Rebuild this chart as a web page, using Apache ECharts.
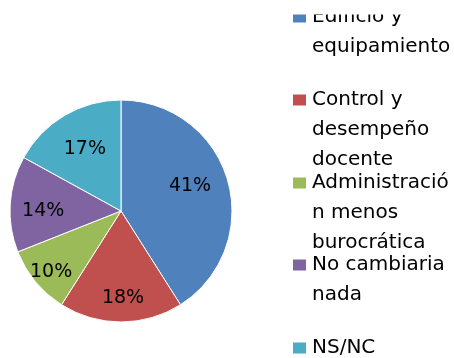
<!DOCTYPE html>
<html>
<head>
<meta charset="utf-8">
<script src="https://cdn.jsdelivr.net/npm/echarts@6/dist/echarts.min.js"></script>
<style>
  html, body { margin: 0; padding: 0; background: #fff; }
  #chart { width: 454px; height: 358px; }
</style>
</head>
<body>
<div id="chart"></div>
<script>
// Answers, in order clockwise from twelve o'clock
const categories = [
  'Edificio y equipamiento',
  'Control y desempeño docente',
  'Administración menos burocrática',
  'No cambiaria nada',
  'NS/NC'
];
// Share of responses, percent
const shares = [41, 18, 10, 14, 17];
// Legend text as it wraps in the narrow legend column
const legendLines = [
  ['Edificio y', 'equipamiento'],
  ['Control y', 'desempeño', 'docente'],
  ['Administració', 'n menos', 'burocrática'],
  ['No cambiaria', 'nada'],
  ['NS/NC']
];
const colors = ['#4F81BD', '#C0504D', '#9BBB59', '#8064A2', '#4BACC6'];

const FONT = 'DejaVu Sans';
const CENTER = [121, 211];
const R = 111;
const LINE_H = 30;

// distance of each value label from the pie centre, plus a small nudge
const labelDist = [71, 84, 89, 75, 72];
const labelNudge = [[-2, -4], [2, 0], [1, 2], [0, 5], [2, 3]];

const chart = echarts.init(document.getElementById('chart'), null, { renderer: 'canvas' });

const pieData = categories.map((name, i) => ({
  name: name,
  value: shares[i],
  itemStyle: { color: colors[i] }
}));

const series = [{
  type: 'pie',
  center: CENTER,
  radius: [0, R],
  startAngle: 90,
  clockwise: true,
  silent: true,
  animation: false,
  itemStyle: { borderColor: '#ffffff', borderWidth: 1 },
  label: { show: false },
  labelLine: { show: false },
  data: pieData
}];

// transparent rings carrying the value labels, one per slice
categories.forEach((name, k) => {
  const d = labelDist[k];
  series.push({
    type: 'pie',
    center: CENTER,
    radius: [2 * d - R, R],
    startAngle: 90,
    clockwise: true,
    silent: true,
    animation: false,
    itemStyle: { color: 'rgba(0,0,0,0)', borderWidth: 0 },
    labelLine: { show: false },
    labelLayout: { dx: labelNudge[k][0], dy: labelNudge[k][1] },
    label: {
      show: false,
      position: 'inside',
      formatter: '{c}%',
      color: '#000',
      fontFamily: FONT,
      fontSize: 19
    },
    data: categories.map((n, i) => ({
      name: n,
      value: shares[i],
      label: { show: i === k }
    }))
  });
});

// one legend block per answer, evenly pitched down the right column;
// blank lines ahead of the text keep the swatch level with the first line
const legendCenters = [17, 100, 183, 265, 348];
const legends = categories.map((name, i) => {
  const n = legendLines[i].length;
  const text = new Array(n - 1).fill(' ').concat(legendLines[i]).join('\n');
  return {
    orient: 'vertical',
    left: 291,
    top: legendCenters[i] - (2 * n - 1) * LINE_H / 2,
    padding: 0,
    icon: 'rect',
    itemWidth: 15,
    itemHeight: 13,
    selectedMode: false,
    data: [name],
    formatter: () => text,
    textStyle: {
      fontFamily: FONT,
      fontSize: 20,
      color: '#000',
      lineHeight: LINE_H
    }
  };
});

chart.setOption({
  animation: false,
  backgroundColor: '#ffffff',
  legend: legends,
  series: series,
  graphic: [{
    type: 'rect',
    z: 100,
    shape: { x: 280, y: 0, width: 174, height: 14.5 },
    style: { fill: '#ffffff' }
  }]
});
</script>
</body>
</html>
